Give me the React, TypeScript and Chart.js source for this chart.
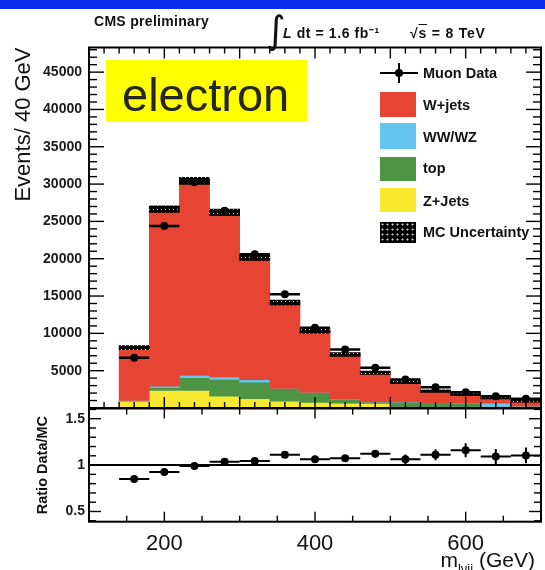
import React, { useEffect, useRef } from 'react';
import { Chart, registerables } from 'chart.js';

Chart.register(...registerables);

// ---------------- data ----------------
const binCenters = [160, 200, 240, 280, 320, 360, 400, 440, 480, 520, 560, 600, 640, 680];
const binHalfWidth = 20;
const zJets = [910, 2350, 2350, 1580, 1235, 910, 750, 640, 600, 0, 0, 0, 0, 0];
const topQuark = [60, 400, 1700, 2245, 2225, 1670, 1290, 500, 180, 780, 700, 620, 200, 200];
const dibosonWWWZ = [30, 175, 310, 325, 320, 60, 40, 30, 20, 20, 20, 20, 450, 30];
const wJets = [7080, 23715, 26080, 22050, 16380, 11480, 8230, 6010, 3925, 2660, 1535, 1170, 720, 680];
const mcUncertainty = [270, 450, 480, 440, 380, 340, 300, 260, 230, 200, 180, 160, 150, 140];
const muonData = [6740, 24400, 30230, 26420, 20600, 15230, 10765, 7850, 5400, 3825, 2790, 2120, 1580, 1235];
const muonDataErr = [80, 160, 175, 160, 145, 125, 105, 90, 75, 62, 55, 48, 40, 36];
const ratioValues = [0.851, 0.925, 0.99, 1.037, 1.045, 1.112, 1.063, 1.075, 1.123, 1.063, 1.112, 1.16, 1.093, 1.104];
const ratioErr = [0.02, 0.02, 0.015, 0.015, 0.02, 0.02, 0.025, 0.03, 0.04, 0.05, 0.06, 0.075, 0.08, 0.085];
const mainYTicks = [5000, 10000, 15000, 20000, 25000, 30000, 35000, 40000, 45000];
const ratioXTicks = [200, 400, 600];
const ratioYTicks = [0.5, 1, 1.5];

const RED = '#e54532';
const BLUE = '#64c6f0';
const GREEN = '#4d9445';
const YELLOW = '#f7e930';
const FONT = '"Liberation Sans", Arial, Helvetica, sans-serif';

type TickCfg = {
  xMajor: number; xMinor: number; yMajor: number; yMinor: number;
  xMajLen: number; xMinLen: number; yMajLen: number; yMinLen: number;
  unityLine?: boolean;
};

function tickFramePlugin(cfg: TickCfg) {
  return {
    id: 'tickFrame',
    beforeDatasetsDraw(chart: any) {
      if (!cfg.unityLine) return;
      const { ctx, chartArea: a, scales } = chart;
      const py = scales.y.getPixelForValue(1);
      ctx.save();
      ctx.strokeStyle = '#000';
      ctx.lineWidth = 2;
      ctx.beginPath();
      ctx.moveTo(a.left, py);
      ctx.lineTo(a.right, py);
      ctx.stroke();
      ctx.restore();
    },
    afterDraw(chart: any) {
      const { ctx, chartArea: a, scales } = chart;
      const xs = scales.x;
      const ys = scales.y;
      ctx.save();
      ctx.strokeStyle = '#000';
      ctx.lineWidth = 1.4;
      const line = (x1: number, y1: number, x2: number, y2: number) => {
        ctx.beginPath();
        ctx.moveTo(x1, y1);
        ctx.lineTo(x2, y2);
        ctx.stroke();
      };
      const each = (min: number, max: number, step: number, fn: (v: number) => void) => {
        const start = Math.ceil(min / step - 1e-9);
        const end = Math.floor(max / step + 1e-9);
        for (let k = start; k <= end; k++) fn(k * step);
      };
      const isMajor = (v: number, step: number) => Math.abs(v / step - Math.round(v / step)) < 1e-6;
      each(xs.min, xs.max, cfg.xMinor, (v) => {
        const len = isMajor(v, cfg.xMajor) ? cfg.xMajLen : cfg.xMinLen;
        const px = xs.getPixelForValue(v);
        line(px, a.bottom, px, a.bottom - len);
        line(px, a.top, px, a.top + len);
      });
      each(ys.min, ys.max, cfg.yMinor, (v) => {
        const len = isMajor(v, cfg.yMajor) ? cfg.yMajLen : cfg.yMinLen;
        const py = ys.getPixelForValue(v);
        line(a.left, py, a.left + len, py);
        line(a.right, py, a.right - len, py);
      });
      ctx.lineWidth = 2;
      ctx.strokeRect(a.left, a.top, a.right - a.left, a.bottom - a.top);
      ctx.restore();
    },
  };
}

function errorBarPlugin(values: number[], yerr: number[], lw: number) {
  return {
    id: 'errorBars',
    afterDatasetsDraw(chart: any) {
      const { ctx, chartArea: a, scales } = chart;
      const xs = scales.x;
      const ys = scales.y;
      ctx.save();
      ctx.beginPath();
      ctx.rect(a.left, a.top, a.right - a.left, a.bottom - a.top);
      ctx.clip();
      ctx.strokeStyle = '#000';
      ctx.lineWidth = lw;
      binCenters.forEach((c, i) => {
        const py = ys.getPixelForValue(values[i]);
        const px = xs.getPixelForValue(c);
        ctx.beginPath();
        ctx.moveTo(xs.getPixelForValue(c - binHalfWidth), py);
        ctx.lineTo(xs.getPixelForValue(c + binHalfWidth), py);
        ctx.moveTo(px, ys.getPixelForValue(values[i] - yerr[i]));
        ctx.lineTo(px, ys.getPixelForValue(values[i] + yerr[i]));
        ctx.stroke();
      });
      ctx.restore();
    },
  };
}

function dotPattern(): any {
  const c = document.createElement('canvas');
  c.width = 4;
  c.height = 4;
  const g = c.getContext('2d');
  if (!g) return '#000';
  g.fillStyle = '#000';
  g.fillRect(0, 0, 4, 4);
  g.fillStyle = 'rgba(255,255,255,0.8)';
  g.fillRect(1, 1, 1, 1);
  return g.createPattern(c, 'repeat') || '#000';
}

const fixY = (w: number) => (s: any) => {
  s.width = w;
  s.paddingTop = 0;
  s.paddingBottom = 0;
};
const fixX = (h: number) => (s: any) => {
  s.height = h;
  s.paddingLeft = 0;
  s.paddingRight = 0;
};
const setTicks = (vals: number[]) => (s: any) => {
  s.ticks = vals.map((v) => ({ value: v }));
};

export default function App() {
  const mainRef = useRef<HTMLCanvasElement>(null);
  const ratioRef = useRef<HTMLCanvasElement>(null);

  useEffect(() => {
    if (!mainRef.current || !ratioRef.current) return;
    const layers = [
      { label: 'Z+Jets', values: zJets, color: YELLOW },
      { label: 'top', values: topQuark, color: GREEN },
      { label: 'WW/WZ', values: dibosonWWWZ, color: BLUE },
      { label: 'W+jets', values: wJets, color: RED },
    ];
    let cum = binCenters.map(() => 0);
    const barSets: any[] = layers.map((l, k) => {
      const data = binCenters.map((c, i) => {
        const lo = cum[i];
        const hi = lo + l.values[i];
        return { x: c, y: l.values[i] > 0 ? [lo, hi] : null };
      });
      cum = cum.map((v, i) => v + l.values[i]);
      return {
        type: 'bar', label: l.label, data, backgroundColor: l.color, borderWidth: 0,
        grouped: false, barPercentage: 1, categoryPercentage: 1, order: 5 - k,
      };
    });
    const mcTotal = cum;
    const uncSet: any = {
      type: 'bar', label: 'MC Uncertainty',
      data: binCenters.map((c, i) => ({ x: c, y: [mcTotal[i] - mcUncertainty[i], mcTotal[i] + mcUncertainty[i]] })),
      backgroundColor: dotPattern(), borderWidth: 0, grouped: false,
      barPercentage: 1, categoryPercentage: 1, order: 1,
    };
    const dataSet: any = {
      type: 'scatter', label: 'Muon Data',
      data: binCenters.map((c, i) => ({ x: c, y: muonData[i] })),
      pointRadius: 4, pointBackgroundColor: '#000', pointBorderWidth: 0, showLine: false, order: 0,
    };

    const main = new Chart(mainRef.current, {
      type: 'bar',
      data: { datasets: [dataSet, uncSet, ...barSets] },
      options: {
        responsive: false,
        animation: false,
        layout: { padding: { top: 47.5, bottom: 3.5, left: 0, right: 4 } },
        plugins: { legend: { display: false }, tooltip: { enabled: false } },
        scales: {
          x: {
            type: 'linear', min: 100, max: 700, offset: false,
            ticks: { display: false }, grid: { display: false, drawTicks: false },
            border: { display: false },
            afterFit: fixX(0),
          },
          y: {
            type: 'linear', min: 0, max: 48300,
            afterBuildTicks: setTicks(mainYTicks),
            ticks: {
              autoSkip: false, padding: 7,
              color: '#1a1a1a', font: { family: FONT, size: 14, weight: 'bold' },
              callback: (v: any) => String(v),
            },
            grid: { display: false, drawTicks: false },
            border: { display: false },
            title: {
              display: true, text: 'Events/ 40 GeV', align: 'end', color: '#111',
              font: { family: FONT, size: 22 }, padding: { top: 11, bottom: 0 },
            },
            afterFit: fixY(89),
          },
        },
      } as any,
      plugins: [
        tickFramePlugin({ xMajor: 100, xMinor: 20, yMajor: 5000, yMinor: 1000, xMajLen: 11, xMinLen: 6, yMajLen: 15, yMinLen: 8 }),
        errorBarPlugin(muonData, muonDataErr, 2.5),
      ],
    });

    const ratio = new Chart(ratioRef.current, {
      type: 'scatter',
      data: {
        datasets: [{
          label: 'Data/MC',
          data: binCenters.map((c, i) => ({ x: c, y: ratioValues[i] })),
          pointRadius: 4, pointBackgroundColor: '#000', pointBorderWidth: 0, showLine: false,
        } as any],
      },
      options: {
        responsive: false,
        animation: false,
        layout: { padding: { top: 8.5, bottom: 0, left: 0, right: 4 } },
        plugins: { legend: { display: false }, tooltip: { enabled: false } },
        scales: {
          x: {
            type: 'linear', min: 100, max: 700,
            afterBuildTicks: setTicks(ratioXTicks),
            ticks: {
              autoSkip: false, maxRotation: 0, padding: 9,
              color: '#111', font: { family: FONT, size: 22 },
              callback: (v: any) => String(v),
            },
            grid: { display: false, drawTicks: false },
            border: { display: false },
            afterFit: fixX(48.3),
          },
          y: {
            type: 'linear', min: 0.39, max: 1.61,
            afterBuildTicks: setTicks(ratioYTicks),
            ticks: {
              autoSkip: false, padding: 4,
              color: '#1a1a1a', font: { family: FONT, size: 14, weight: 'bold' },
              callback: (v: any) => String(v),
            },
            grid: { display: false, drawTicks: false },
            border: { display: false },
            title: {
              display: true, text: 'Ratio Data/MC', color: '#111',
              font: { family: FONT, size: 14.5, weight: 'bold' }, padding: { top: 34, bottom: 0 },
            },
            afterFit: fixY(89),
          },
        },
      } as any,
      plugins: [
        tickFramePlugin({ xMajor: 200, xMinor: 50, yMajor: 0.5, yMinor: 0.1, xMajLen: 10, xMinLen: 6, yMajLen: 12, yMinLen: 7, unityLine: true }),
        errorBarPlugin(ratioValues, ratioErr, 2),
      ],
    });

    return () => {
      main.destroy();
      ratio.destroy();
    };
  }, []);

  const legendText: React.CSSProperties = {
    position: 'absolute', left: 423, fontFamily: FONT, fontWeight: 'bold', fontSize: 14.5,
    color: '#111', lineHeight: '15px', whiteSpace: 'nowrap',
  };
  const swatch = (top: number, height: number, bg: string, extra: React.CSSProperties = {}) => (
    <div style={{ position: 'absolute', left: 380, top, width: 36, height, background: bg, ...extra }} />
  );
  const headerText: React.CSSProperties = {
    position: 'absolute', fontSize: 14, lineHeight: '14px', fontWeight: 'bold', color: '#111', whiteSpace: 'nowrap',
  };

  return (
    <div style={{ position: 'absolute', left: 0, top: 0, width: 545, height: 570, background: '#fff', overflow: 'hidden', fontFamily: FONT }}>
      <div style={{ position: 'absolute', left: 0, top: 0, width: 545, height: 9, background: '#0a2ef0' }} />
      <canvas ref={mainRef} width={545} height={412} style={{ position: 'absolute', left: 0, top: 0, width: 545, height: 412 }} />
      <canvas ref={ratioRef} width={545} height={170} style={{ position: 'absolute', left: 0, top: 400, width: 545, height: 170 }} />

      {/* header */}
      <div style={{ ...headerText, left: 94, top: 14, letterSpacing: '0.3px' }}>CMS preliminary</div>
      <div style={{ position: 'absolute', left: 266, top: 8, fontSize: 38, lineHeight: '44px', color: '#111', fontFamily: '"DejaVu Sans", sans-serif' }}>∫</div>
      <div style={{ ...headerText, left: 283, top: 26, letterSpacing: '0.6px' }}><i>L</i> dt = 1.6 fb⁻¹</div>
      <div style={{ ...headerText, left: 410, top: 26, letterSpacing: '0.8px' }}>√<span style={{ textDecoration: 'overline' }}>s</span> = 8 TeV</div>

      {/* electron box */}
      <div style={{ position: 'absolute', left: 106, top: 60, width: 201, height: 62, background: '#ffff00' }} />
      <div style={{ position: 'absolute', left: 122, top: 70.5, fontSize: 47, lineHeight: '47px', color: '#262626', whiteSpace: 'nowrap' }}>electron</div>

      {/* legend */}
      <div style={{ position: 'absolute', left: 380, top: 72, width: 38, height: 2, background: '#000' }} />
      <div style={{ position: 'absolute', left: 398, top: 63, width: 2, height: 20, background: '#000' }} />
      <div style={{ position: 'absolute', left: 395, top: 69, width: 8, height: 8, borderRadius: 4, background: '#000' }} />
      <div style={{ ...legendText, top: 66 }}>Muon Data</div>
      {swatch(92, 25, RED)}
      <div style={{ ...legendText, top: 97.5 }}>W+jets</div>
      {swatch(123, 26, BLUE)}
      <div style={{ ...legendText, top: 129.5 }}>WW/WZ</div>
      {swatch(157, 24, GREEN)}
      <div style={{ ...legendText, top: 161 }}>top</div>
      {swatch(188, 24, YELLOW)}
      <div style={{ ...legendText, top: 193.5 }}>Z+Jets</div>
      {swatch(222, 21, '#000', { backgroundImage: 'radial-gradient(rgba(255,255,255,0.85) 0.8px, transparent 1.2px)', backgroundSize: '5px 5px' })}
      <div style={{ ...legendText, top: 224.5 }}>MC Uncertainty</div>

      {/* x axis title */}
      <div style={{ position: 'absolute', right: 10, top: 549, fontSize: 21, lineHeight: '21px', color: '#111', whiteSpace: 'nowrap' }}>
        m<sub style={{ fontSize: 13, verticalAlign: '-6px' }}>lνjj</sub> (GeV)
      </div>
    </div>
  );
}
